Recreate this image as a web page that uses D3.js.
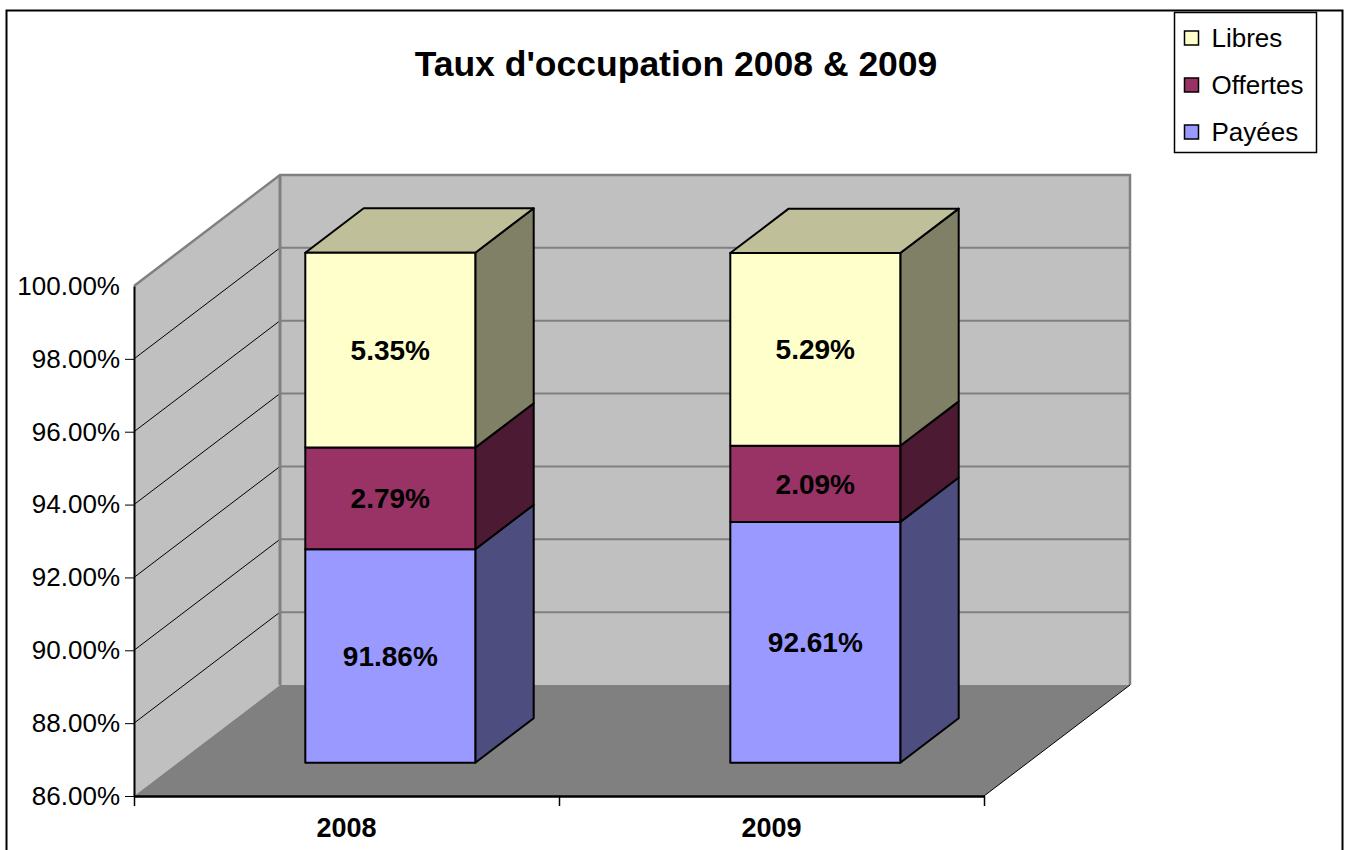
<!DOCTYPE html>
<html>
<head>
<meta charset="utf-8">
<script src="https://cdnjs.cloudflare.com/ajax/libs/d3/7.8.5/d3.min.js"></script>
<style>
  body { margin: 0; background: #fff; }
  svg { font-family: Arial, "Liberation Sans", sans-serif; }
  .axis text { font-size: 26px; fill: #000; }
  .axis path, .axis line { stroke: #000; }
</style>
</head>
<body>
<div id="chart-area"></div>
<script>
// data
var years = ["2008", "2009"];
var series = ["Payées", "Offertes", "Libres"];
var payees = [91.86, 92.61];
var offertes = [2.79, 2.09];
var libres = [5.35, 5.29];
var yTicks = [86, 88, 90, 92, 94, 96, 98, 100];

var colors = {
	"Payées":   { front: "#9999ff", side: "#4d4d80", top: "#7373bf" },
	"Offertes": { front: "#993366", side: "#4d1a33", top: "#73264d" },
	"Libres":   { front: "#ffffcc", side: "#808066", top: "#bfbf99" }
};

var width = 1347, height = 850;

// 3d depth of the plot box (front plane -> back wall)
var DX = 146, DY = 111;
var barFront = 0.3, barDepth = 0.4;

var svg = d3.select("#chart-area")
	.append("svg")
		.attr("width", width)
		.attr("height", height);

// chart border
svg.append("rect")
	.attr("x", 6.5).attr("y", 10.5)
	.attr("width", 1336).attr("height", 860)
	.attr("fill", "#fff")
	.attr("stroke", "#000")
	.attr("stroke-width", 2);

//scales
var y = d3.scaleLinear()
	.domain([86, 100])
	.range([796, 286]);

var x = d3.scaleBand()
	.domain(years)
	.range([134, 984])
	.paddingInner(0.6)
	.paddingOuter(0.3);

var xEdge = d3.scaleLinear()
	.domain([0, years.length])
	.range([134, 984]);

function P(px, py, d) { return [px + d * DX, py - d * DY]; }
function poly(pts) { return pts.map(function(p){ return p.join(","); }).join(" "); }

var x0 = xEdge.range()[0], x1 = xEdge.range()[1];
var yb = y(86), yt = y(100);

// left wall
svg.append("polygon")
	.attr("points", poly([[x0, yb], [x0, yt], P(x0, yt, 1), P(x0, yb, 1)]))
	.attr("fill", "#c0c0c0");

// back wall
svg.append("polygon")
	.attr("points", poly([P(x0, yt, 1), P(x1, yt, 1), P(x1, yb, 1), P(x0, yb, 1)]))
	.attr("fill", "#c0c0c0");

// floor
svg.append("polygon")
	.attr("points", poly([[x0, yb], [x1, yb], P(x1, yb, 1), P(x0, yb, 1)]))
	.attr("fill", "#808080");

// gridlines on back wall and left wall
var grid = yTicks.filter(function(t){ return t > 86 && t < 100; });
svg.selectAll(".grid-back")
	.data(grid)
	.enter().append("line")
		.attr("class", "grid-back")
		.attr("x1", x0 + DX).attr("x2", x1 + DX)
		.attr("y1", function(d){ return y(d) - DY; })
		.attr("y2", function(d){ return y(d) - DY; })
		.attr("stroke", "#808080")
		.attr("stroke-width", 2);

svg.selectAll(".grid-side")
	.data(grid)
	.enter().append("line")
		.attr("class", "grid-side")
		.attr("x1", x0).attr("x2", x0 + DX)
		.attr("y1", function(d){ return y(d); })
		.attr("y2", function(d){ return y(d) - DY; })
		.attr("stroke", "#000")
		.attr("stroke-width", 1);

// wall edges
svg.append("polyline")
	.attr("points", poly([[x0, yt], P(x0, yt, 1), P(x1, yt, 1), P(x1, yb, 1)]))
	.attr("fill", "none")
	.attr("stroke", "#808080")
	.attr("stroke-width", 2.5);
svg.append("line")
	.attr("x1", x0 + DX).attr("x2", x0 + DX)
	.attr("y1", yt - DY).attr("y2", yb - DY)
	.attr("stroke", "#808080")
	.attr("stroke-width", 3);
svg.append("line")
	.attr("x1", x1).attr("y1", yb)
	.attr("x2", x1 + DX).attr("y2", yb - DY)
	.attr("stroke", "#000")
	.attr("stroke-width", 1);

// stacked data
var table = years.map(function(yr, i){
	return { year: yr, "Payées": payees[i], "Offertes": offertes[i], "Libres": libres[i] };
});
var stacked = d3.stack().keys(series)(table);

var bars = svg.append("g");
stacked.forEach(function(layer, li){
	var c = colors[layer.key];
	layer.forEach(function(seg){
		var yr = seg.data.year;
		var bx0 = x(yr), bx1 = x(yr) + x.bandwidth();
		var v0 = Math.max(seg[0], 86), v1 = seg[1];
		var fy0 = y(v0), fy1 = y(v1);
		var A = P(bx0, fy1, barFront), B = P(bx1, fy1, barFront);
		var C = P(bx1, fy0, barFront), D = P(bx0, fy0, barFront);
		var Bb = P(bx1, fy1, barFront + barDepth), Cb = P(bx1, fy0, barFront + barDepth);
		var Ab = P(bx0, fy1, barFront + barDepth);

		bars.append("polygon")
			.attr("points", poly([C, B, Bb, Cb]))
			.attr("fill", c.side)
			.attr("stroke", "#000").attr("stroke-width", 2)
			.attr("stroke-linejoin", "round");
		if (li == stacked.length - 1) {
			bars.append("polygon")
				.attr("points", poly([A, B, Bb, Ab]))
				.attr("fill", c.top)
				.attr("stroke", "#000").attr("stroke-width", 2)
				.attr("stroke-linejoin", "round");
		}
		bars.append("polygon")
			.attr("points", poly([A, B, C, D]))
			.attr("fill", c.front)
			.attr("stroke", "#000").attr("stroke-width", 2)
			.attr("stroke-linejoin", "round");

		bars.append("text")
			.attr("x", (A[0] + B[0]) / 2)
			.attr("y", (A[1] + D[1]) / 2)
			.attr("dy", "0.36em")
			.attr("text-anchor", "middle")
			.attr("font-size", 28)
			.attr("font-weight", "bold")
			.text(d3.format(".2f")(seg.data[layer.key]) + "%");
	});
});

// y axis
var yAxisCall = d3.axisLeft(y)
	.tickValues(yTicks)
	.tickSize(9)
	.tickSizeOuter(0)
	.tickFormat(function(d){ return d3.format(".2f")(d) + "%"; });

var yAx = svg.append("g")
	.attr("class", "y axis")
	.attr("transform", "translate(" + x0 + ",0)")
	.call(yAxisCall);
yAx.select(".domain").attr("stroke-width", 2);
yAx.selectAll(".tick").filter(function(d){ return d == 100; }).select("line").remove();
yAx.selectAll("text").attr("x", -14);

// x axis (ticks on category edges, labels centered)
var xEdgeAxis = d3.axisBottom(xEdge)
	.ticks(years.length)
	.tickSize(10)
	.tickSizeOuter(0)
	.tickFormat("");
var xAx = svg.append("g")
	.attr("class", "x axis")
	.attr("transform", "translate(0," + yb + ")")
	.call(xEdgeAxis);
xAx.select(".domain").attr("stroke-width", 2.5).attr("stroke", "#222");
xAx.selectAll(".tick line").attr("stroke-width", 1.5);

svg.selectAll(".cat-label")
	.data(years)
	.enter().append("text")
		.attr("class", "cat-label")
		.attr("x", function(d){ return x(d) + x.bandwidth() / 2; })
		.attr("y", 837)
		.attr("text-anchor", "middle")
		.attr("font-size", 27)
		.attr("font-weight", "bold")
		.text(function(d){ return d; });

// title
svg.append("text")
	.attr("x", 676)
	.attr("y", 76)
	.attr("text-anchor", "middle")
	.attr("font-size", 35.5)
	.attr("font-weight", "bold")
	.text("Taux d'occupation 2008 & 2009");

// legend
var legend = svg.append("g")
	.attr("transform", "translate(1174.5, 12.5)");
legend.append("rect")
	.attr("width", 142).attr("height", 140)
	.attr("fill", "#fff")
	.attr("stroke", "#000")
	.attr("stroke-width", 1.5);

series.slice().reverse().forEach(function(s, i){
	var row = legend.append("g")
		.attr("transform", "translate(0, " + (25.5 + i * 47) + ")");
	row.append("rect")
		.attr("x", 10).attr("y", -7)
		.attr("width", 14).attr("height", 14)
		.attr("fill", colors[s].front)
		.attr("stroke", "#000")
		.attr("stroke-width", 1.5);
	row.append("text")
		.attr("x", 37)
		.attr("y", 9)
		.attr("font-size", 26)
		.text(s);
});
</script>
</body>
</html>
